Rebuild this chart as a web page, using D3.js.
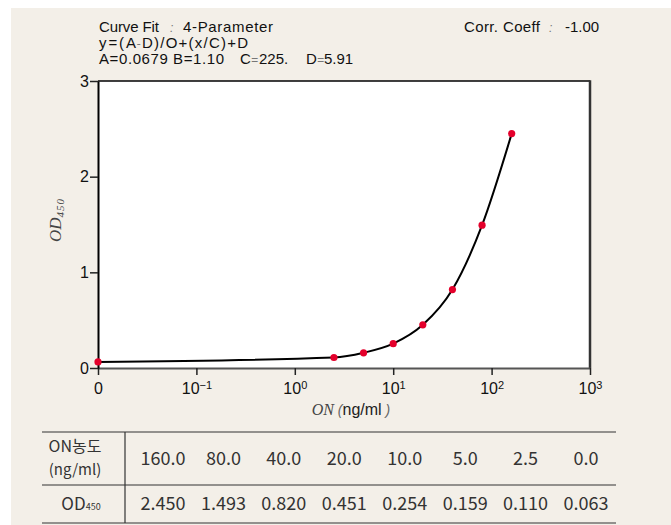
<!DOCTYPE html>
<html>
<head>
<meta charset="utf-8">
<script src="https://cdn.jsdelivr.net/npm/d3@7"></script>
<style>
  body { margin: 0; background: #fff; }
  svg { display: block; font-family: 'Liberation Sans', Arial, sans-serif; }
</style>
</head>
<body>
<svg id="chart" width="671" height="525"></svg>
<script>
// standard curve: concentration (ng/ml) and OD450, as listed in the table
const concLabels = ['160.0', '80.0', '40.0', '20.0', '10.0', '5.0', '2.5', '0.0'];
const concValues = [160, 80, 40, 20, 10, 5, 2.5, 0];
const odLabels = ['2.450', '1.493', '0.820', '0.451', '0.254', '0.159', '0.110', '0.063'];
const odValues = [2.450, 1.493, 0.820, 0.451, 0.254, 0.159, 0.110, 0.063];

// log axis; the blank (0 ng/ml) is drawn on the first tick
const zeroAt = 0.01;
const xTickValues = [0.01, 0.1, 1, 10, 100, 1000];
const xTickLabels = [['0', ''], ['10', '\u22121'], ['10', '0'], ['10', '1'], ['10', '2'], ['10', '3']];
const yTickValues = [0, 1, 2, 3];

const svg = d3.select('#chart');

svg.append('rect')
  .attr('x', 11).attr('y', 8)
  .attr('width', 660).attr('height', 517)
  .attr('fill', '#f3efe8');

const plot = {left: 98, right: 590, top: 81, bottom: 368};

const x = d3.scaleLog().domain([zeroAt, 1000]).range([plot.left, plot.right]);
const y = d3.scaleLinear().domain([0, 3]).range([plot.bottom, plot.top]);

svg.append('rect')
  .attr('x', plot.left).attr('y', plot.top)
  .attr('width', plot.right - plot.left).attr('height', plot.bottom - plot.top)
  .attr('fill', '#fff');

// top + right frame
svg.append('line')
  .attr('x1', plot.left).attr('x2', plot.right)
  .attr('y1', plot.top).attr('y2', plot.top)
  .attr('stroke', '#000').attr('stroke-width', 1.5);
svg.append('line')
  .attr('x1', plot.right).attr('x2', plot.right)
  .attr('y1', plot.top - 0.75).attr('y2', plot.bottom)
  .attr('stroke', '#333').attr('stroke-width', 2.5);

// axes
const xAxis = svg.append('g')
  .attr('transform', 'translate(0,' + plot.bottom + ')')
  .call(d3.axisBottom(x).tickValues(xTickValues).tickSize(7).tickPadding(8).tickSizeOuter(0));

xAxis.selectAll('.tick text')
  .text(null)
  .each(function (d, i) {
    const t = d3.select(this);
    t.append('tspan').text(xTickLabels[i][0]);
    if (xTickLabels[i][1]) {
      t.append('tspan').attr('font-size', 11).attr('dy', '-0.45em').text(xTickLabels[i][1]);
    }
  });

const yAxis = svg.append('g')
  .attr('transform', 'translate(' + plot.left + ',0)')
  .call(d3.axisLeft(y).tickValues(yTickValues).tickFormat(d3.format('d')).tickSize(8).tickPadding(1).tickSizeOuter(0));

xAxis.select('.domain').attr('stroke', '#555').attr('stroke-width', 2.2);
yAxis.select('.domain').attr('stroke', '#000').attr('stroke-width', 2);
svg.selectAll('.tick line').attr('stroke', '#222').attr('stroke-width', 1.5);
svg.selectAll('.tick text').attr('font-size', 16).attr('fill', '#111')
  .attr('font-family', "'Liberation Sans', Arial, sans-serif");

// curve through the standards, then the points
const points = concValues.map((c, i) => ({c: c, od: odValues[i]}))
  .sort((a, b) => a.c - b.c);

const line = d3.line()
  .x(d => x(d.c || zeroAt))
  .y(d => y(d.od))
  .curve(d3.curveMonotoneX);

svg.append('path')
  .datum(points)
  .attr('d', line)
  .attr('fill', 'none')
  .attr('stroke', '#000')
  .attr('stroke-width', 2);

svg.append('g').selectAll('circle')
  .data(points)
  .join('circle')
  .attr('cx', d => x(d.c || zeroAt))
  .attr('cy', d => y(d.od))
  .attr('r', 3.6)
  .attr('fill', '#e4002b');

// axis titles
const xTitle = svg.append('text')
  .attr('x', 351).attr('y', 415)
  .attr('text-anchor', 'middle')
  .attr('font-size', 16).attr('fill', '#222');
xTitle.append('tspan').attr('font-family', "'Liberation Serif', serif").attr('font-style', 'italic').attr('fill', '#444').text('ON');
xTitle.append('tspan').attr('font-style', 'italic').attr('fill', '#666').attr('font-size', 14).text(' (');
xTitle.append('tspan').text('ng/ml');
xTitle.append('tspan').attr('font-style', 'italic').attr('fill', '#666').attr('font-size', 14).text(' )');

const yTitle = svg.append('text')
  .attr('transform', 'translate(61,220) rotate(-90)')
  .attr('text-anchor', 'middle')
  .attr('font-family', "'Liberation Serif', serif")
  .attr('font-style', 'italic')
  .attr('fill', '#444');
yTitle.append('tspan').attr('font-size', 17).text('OD');
yTitle.append('tspan').attr('font-size', 11).attr('dy', '0.25em').attr('letter-spacing', 1).text('450');

// fit info
const header = svg.append('g').attr('font-size', 15).attr('fill', '#111');

function headerLine(yPos, parts) {
  const t = header.append('text').attr('y', yPos);
  parts.forEach(p => {
    const s = t.append('tspan').attr('x', p[0]).text(p[1]);
    if (p[2] === true) s.attr('fill', '#777').attr('font-size', 12).attr('font-style', 'italic');
    else if (p[2]) s.attr('textLength', p[2]).attr('lengthAdjust', 'spacing');
  });
}

headerLine(32, [[99, 'Curve Fit', 60], [170, ':', true], [183, '4-Parameter', 90]]);
headerLine(48, [[99, 'y=(A', 37], [136.5, '-', true], [142, 'D)/O+(x/C)+D', 106]]);
headerLine(64, [[99, 'A=0.0679 B=1.10', 125], [240, 'C'], [251, '=', true], [259, '225.'], [306, 'D'], [317, '=', true], [324, '5.91']]);
headerLine(32, [[464, 'Corr. Coeff', 76], [549, ':', true], [565, '-1.00']]);

// data table
const table = svg.append('g')
  .attr('font-family', "'Noto Sans CJK KR', 'Noto Sans', sans-serif")
  .attr('fill', '#333');

[432, 485, 523].forEach(yy => {
  table.append('line')
    .attr('x1', 42).attr('x2', 616).attr('y1', yy).attr('y2', yy)
    .attr('stroke', '#333').attr('stroke-width', 1.2);
});
table.append('line')
  .attr('x1', 125).attr('x2', 125).attr('y1', 432).attr('y2', 523)
  .attr('stroke', '#333').attr('stroke-width', 1.2);

const col = d3.scalePoint().domain(d3.range(concLabels.length)).range([163, 586]);

table.append('text').attr('x', 75).attr('y', 452).attr('text-anchor', 'middle').attr('font-size', 16).text('ON농도');
table.append('text').attr('x', 75).attr('y', 475).attr('text-anchor', 'middle').attr('font-size', 15).text('(ng/ml)');
const odHead = table.append('text').attr('x', 81).attr('y', 510).attr('text-anchor', 'middle').attr('font-size', 17);
odHead.append('tspan').text('OD');
odHead.append('tspan').attr('font-size', 9).text('450');

table.append('g').selectAll('text')
  .data(concLabels)
  .join('text')
  .attr('x', (d, i) => col(i)).attr('y', 465)
  .attr('text-anchor', 'middle').attr('font-size', 18)
  .text(d => d);

table.append('g').selectAll('text')
  .data(odLabels)
  .join('text')
  .attr('x', (d, i) => col(i)).attr('y', 510)
  .attr('text-anchor', 'middle').attr('font-size', 18)
  .text(d => d);
</script>
</body>
</html>
